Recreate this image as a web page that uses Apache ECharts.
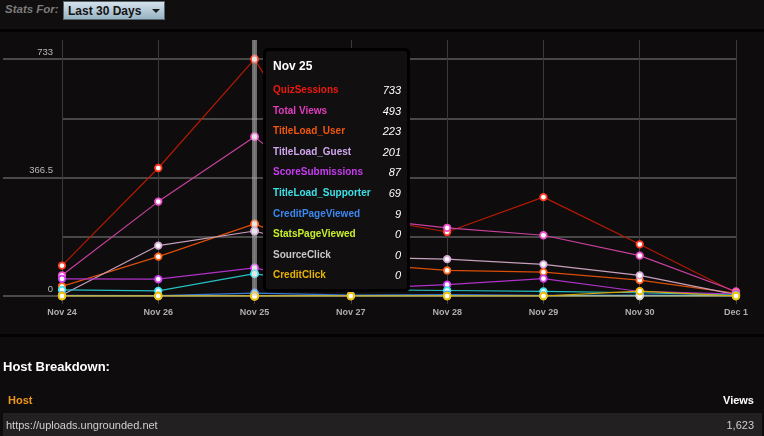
<!DOCTYPE html>
<html><head><meta charset="utf-8">
<script src="https://cdn.jsdelivr.net/npm/echarts@6/dist/echarts.min.js"></script>
<style>
html,body{margin:0;padding:0;background:#0e0c0d;width:764px;height:436px;overflow:hidden;font-family:"Liberation Sans",Arial,sans-serif;}
#chart{position:absolute;left:0;top:0;width:764px;height:436px;}
.ov{position:absolute;z-index:5;}
.hdr{left:0;top:0;width:764px;height:29px;background:#100e0f;}
.sep{left:0;width:764px;height:3px;background:#040303;}
.statsfor{left:5px;top:3px;font-size:11.5px;font-style:italic;font-weight:bold;color:#7c7c7c;}
.dd{left:63px;top:1px;width:102px;height:19px;background:linear-gradient(#d4e2ec,#98b2c2);border:1px solid #56666f;box-sizing:border-box;}
.dd span{position:absolute;left:4px;top:2px;font-size:12px;font-weight:bold;color:#121212;}
.tri{position:absolute;left:88px;top:7px;width:0;height:0;border-left:4px solid transparent;border-right:4px solid transparent;border-top:4px solid #1a1a1a;}
.hb{left:3px;top:359px;font-size:13px;font-weight:bold;color:#fff;}
.hh{left:8px;top:394px;font-size:11px;font-weight:bold;color:#f0981c;}
.hv{right:10px;top:394px;font-size:11px;font-weight:bold;color:#fff;}
.row{left:3px;top:413px;width:759px;height:23px;background:#222021;}
.rl{left:6px;top:419px;font-size:11px;color:#cfcfcf;}
.rv{right:10px;top:419px;font-size:11px;color:#cfcfcf;}
</style></head>
<body>
<div id="chart"></div>
<div class="ov hdr"></div>
<div class="ov sep" style="top:29px"></div>
<div class="ov statsfor">Stats For:</div>
<div class="ov dd"><span>Last 30 Days</span><div class="tri"></div></div>
<div class="ov sep" style="top:334px"></div>
<div class="ov hb">Host Breakdown:</div>
<div class="ov hh">Host</div>
<div class="ov hv">Views</div>
<div class="ov row"></div>
<div class="ov rl">https://uploads.ungrounded.net</div>
<div class="ov rv">1,623</div>
<script>
// ---- data ----
const categories = ["Nov 24","Nov 26","Nov 25","Nov 27","Nov 28","Nov 29","Nov 30","Dec 1"];
const seriesNames = ["QuizSessions","Total Views","TitleLoad_User","TitleLoad_Guest","ScoreSubmissions","TitleLoad_Supporter","CreditPageViewed","StatsPageViewed","SourceClick","CreditClick"];
const quizSessions       = [94, 396, 733, 251, 198, 306, 160, 10];
const totalViews         = [64, 292, 493, 243, 211, 188, 125, 14];
const titleLoadUser      = [30, 122, 223, 102, 79, 74, 49, 8];
const titleLoadGuest     = [3, 156, 201, 120, 114, 98, 64, 4];
const scoreSubmissions   = [53, 52, 87, 22, 35, 54, 14, 6];
const titleLoadSupporter = [19, 16, 69, 20, 17, 14, 10, 3];
const creditPageViewed   = [2, 1, 9, 3, 4, 2, 3, 1];
const statsPageViewed    = [0, 0, 0, 0, 0, 0, 0, 0];
const sourceClick        = [0, 0, 0, 0, 0, 0, 0, 0];
const creditClick        = [0, 0, 0, 0, 0, 0, 15, 0];
const yTickLabels = [0, 366.5, 733];
const tooltipIndex = 2;

// ---- styles ----
const allData = [quizSessions,totalViews,titleLoadUser,titleLoadGuest,scoreSubmissions,titleLoadSupporter,creditPageViewed,statsPageViewed,sourceClick,creditClick];
const textColors = ["#ee1a10","#e23cbe","#f2560e","#cfa6ee","#c83cf2","#3ee0e8","#3c88f0","#c8f02a","#c8c8c8","#e8b400"];
const lineColors = ["#b41a02","#c8409e","#da4e08","#c8a0bc","#b032c8","#26c0c2","#3478d8","#c0e030","#bcbcbc","#d8a800"];
const markColors = ["#ff3a20","#ee50c8","#ff6418","#d8a8d8","#d040f0","#40e8ee","#4090f8","#d0f030","#d0d0d0","#f0c000"];

const chart = echarts.init(document.getElementById('chart'), null, {renderer:'canvas'});
const series = seriesNames.map((n,i)=>({
  name:n, type:'line', data:allData[i], yAxisIndex:0,
  symbol:'circle', symbolSize:6.5, showSymbol:true,
  lineStyle:{color:lineColors[i], width:1.2},
  itemStyle:{color:'#ffffff', borderColor:markColors[i], borderWidth:1.8},
  emphasis:{disabled:true},
  z:2+i
}));

chart.setOption({
  animation:false,
  backgroundColor:'transparent',
  grid:{left:62, right:28, top:40, bottom:140, containLabel:false},
  tooltip:{
    trigger:'axis', triggerOn:'none', alwaysShowContent:true,
    position:[263,48],
    backgroundColor:'#110f10', borderColor:'#000', borderWidth:3, padding:[7,6,6,7],
    extraCssText:'width:147px;height:244px;box-sizing:border-box;border-radius:5px;box-shadow:none;',
    axisPointer:{type:'line', lineStyle:{color:'rgba(205,205,205,0.5)', width:5, type:'solid'}},
    formatter:function(params){
      const idx = params[0].dataIndex;
      let h = '<div style="font:bold 12px Liberation Sans,Arial;color:#fff;line-height:16px;">'+categories[idx]+'</div><div style="margin-top:6px">';
      seriesNames.forEach((n,i)=>{
        h += '<div style="display:flex;justify-content:space-between;line-height:20.6px;height:20.6px;font-size:10px;">'+
             '<span style="color:'+textColors[i]+';font-weight:bold;">'+n+'</span>'+
             '<span style="color:#fff;font-style:italic;font-size:11px;">'+allData[i][idx]+'</span></div>';
      });
      return h+'</div>';
    }
  },
  xAxis:{
    type:'category', data:categories, boundaryGap:false,
    axisLine:{show:true, lineStyle:{color:'#4a4a4a', width:2}},
    axisTick:{show:true, length:8, alignWithLabel:true, lineStyle:{color:'#3c3c3c'}},
    splitLine:{show:true, lineStyle:{color:'#3a3a3a', width:1}},
    axisLabel:{color:'#aeaeae', fontSize:9, fontWeight:'bold', margin:12, fontFamily:'Liberation Sans, Arial'}
  },
  yAxis:[{
    type:'value', min:0, max:792, position:'left',
    axisLine:{show:false},
    axisTick:{show:true, length:59, customValues:yTickLabels, lineStyle:{color:'#4a4a4a', width:2}},
    splitLine:{show:false},
    axisLabel:{customValues:yTickLabels, color:'#bababa', fontSize:9.5, margin:9, verticalAlign:'bottom', padding:[0,0,2,0], fontFamily:'Liberation Sans, Arial'}
  },{
    type:'value', min:0, max:792, interval:183.25, position:'right',
    axisLine:{show:false}, axisTick:{show:false}, axisLabel:{show:false},
    splitLine:{show:true, showMaxLine:false, lineStyle:{color:'#484848', width:2}}
  }],
  series:series
});
chart.dispatchAction({type:'showTip', seriesIndex:0, dataIndex:tooltipIndex});
</script>
</body></html>
